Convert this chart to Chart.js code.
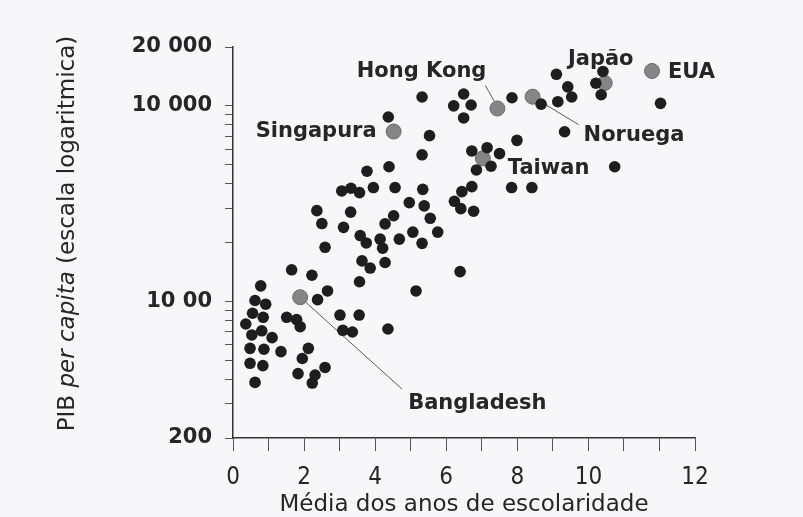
<!DOCTYPE html>
<html>
<head>
<meta charset="utf-8">
<script src="https://cdn.jsdelivr.net/npm/chart.js@4.4.1/dist/chart.umd.min.js"></script>
<style>
  html, body { margin: 0; padding: 0; background: #f7f7f9; }
  #wrap { width: 803px; height: 517px; }
</style>
</head>
<body>
<div id="wrap"><canvas id="pibChart" width="803" height="517"></canvas></div>
<script>
// anos medios de escolaridade (x) e PIB per capita (y) - pontos pretos
const anosEscola = [
    5.32, 6.49, 6.21, 6.70, 6.49, 7.85, 4.37, 5.53, 7.99, 5.32,
    6.72, 7.15, 7.50, 6.85, 7.26, 3.77, 4.39, 7.84, 8.41, 3.06,
    3.32, 3.56, 3.95, 4.56, 5.34, 6.72, 6.44, 4.96, 5.38, 6.23,
    6.41, 6.77, 2.36, 3.31, 5.55, 4.52, 2.50, 3.11, 4.28, 5.06,
    5.76, 3.58, 3.75, 4.14, 4.21, 4.68, 5.32, 2.59, 3.63, 3.86,
    4.28, 1.65, 2.22, 3.56, 6.39, 5.15, 0.78, 2.66, 2.38, 0.62,
    0.92, 0.55, 0.85, 1.51, 1.79, 1.89, 3.01, 3.55, 0.36, 0.53,
    0.81, 1.10, 3.09, 3.36, 4.36, 0.48, 0.87, 1.35, 2.12, 1.95,
    0.48, 0.84, 2.59, 1.83, 2.31, 2.23, 0.62, 8.67, 9.10, 9.42,
    9.53, 9.14, 10.41, 10.21, 10.36, 12.03, 9.33, 10.74
];
const pibPerCapita = [
    11100, 11500, 10000, 10100, 8670, 11000, 8770, 7040, 6660, 5620,
    5880, 6110, 5700, 4700, 4910, 4630, 4880, 3820, 3820, 3670,
    3790, 3600, 3820, 3820, 3740, 3860, 3640, 3200, 3080, 3250,
    2980, 2890, 2910, 2860, 2660, 2740, 2500, 2390, 2490, 2260,
    2260, 2170, 1990, 2080, 1870, 2080, 1980, 1890, 1610, 1480,
    1580, 1450, 1360, 1260, 1420, 1130, 1200, 1130, 1020, 1010,
    967, 869, 829, 829, 807, 742, 851, 851, 766, 673,
    707, 652, 711, 697, 722, 575, 569, 553, 575, 510,
    482, 469, 459, 427, 420, 382, 385, 10200, 14500, 12500,
    11100, 10500, 15000, 13050, 11400, 10300, 7370, 4880
];

// paises destacados (pontos cinzentos)
const destaqueNomes = ['Singapura', 'Hong Kong', 'Noruega', 'Japão', 'EUA', 'Taiwan', 'Bangladesh'];
const destaqueAnos = [4.52, 7.44, 8.43, 10.46, 11.79, 7.03, 1.89];
const destaquePib = [7390, 9690, 11140, 13090, 15080, 5390, 1050];

// eixos
const xTicks = [0, 1, 2, 3, 4, 5, 6, 7, 8, 9, 10, 11, 12, 13];
const xTickLabels = ['0', '', '2', '', '4', '', '6', '', '8', '', '10', '', '', '12'];
const yTicks = [200, 300, 400, 500, 600, 700, 800, 900, 1000, 2000, 3000, 4000, 5000, 6000, 7000, 8000, 9000, 10000, 20000];
const yLabeled = [200, 1000, 10000, 20000];
const yLabels = ['200', '10 00', '10 000', '20 000'];

const xTitle = 'Média dos anos de escolaridade';
const yTitleParts = [['PIB ', 'normal'], ['per capita', 'italic'], [' (escala logaritmica)', 'normal']];

const INK = '#262626';
const FONT = '"DejaVu Sans", sans-serif';

// onde fica cada rotulo em relacao ao seu ponto (px)
const labelLayout = {
    'Singapura':  { dx: -17, dy: 0, align: 'right' },
    'Hong Kong':  { dx: -11, dy: -37, align: 'right', line: [-12, -23, -3, -7] },
    'Noruega':    { dx: 51, dy: 39, align: 'left', line: [0, 0, 46, 28] },
    'Japão':      { dx: -4, dy: -23, align: 'center' },
    'EUA':        { dx: 16, dy: 2, align: 'left' },
    'Taiwan':     { dx: 25, dy: 10, align: 'left' },
    'Bangladesh': { dx: 108, dy: 106, align: 'left', line: [0, 0, 102, 92] }
};

const annotate = {
    id: 'annotate',
    beforeDatasetsDraw(chart) {
        const ctx = chart.ctx, xs = chart.scales.x, ys = chart.scales.y;
        ctx.save();
        ctx.strokeStyle = '#5a5a5a';
        ctx.lineWidth = 1;
        destaqueNomes.forEach((n, i) => {
            const l = labelLayout[n];
            if (!l.line) return;
            const px = xs.getPixelForValue(destaqueAnos[i]);
            const py = ys.getPixelForValue(destaquePib[i]);
            ctx.beginPath();
            ctx.moveTo(px + l.line[0], py + l.line[1]);
            ctx.lineTo(px + l.line[2], py + l.line[3]);
            ctx.stroke();
        });
        ctx.restore();
    },
    afterDatasetsDraw(chart) {
        const ctx = chart.ctx, xs = chart.scales.x, ys = chart.scales.y;
        ctx.save();
        ctx.fillStyle = INK;
        ctx.font = 'bold 21px ' + FONT;
        ctx.textBaseline = 'middle';
        destaqueNomes.forEach((n, i) => {
            const l = labelLayout[n];
            const px = xs.getPixelForValue(destaqueAnos[i]);
            const py = ys.getPixelForValue(destaquePib[i]);
            ctx.textAlign = l.align;
            ctx.fillText(n, px + l.dx, py + l.dy);
        });

        // titulo do eixo y, com "per capita" em italico
        const a = chart.chartArea;
        let total = 0;
        yTitleParts.forEach(p => {
            ctx.font = p[1] + ' 23px ' + FONT;
            total += ctx.measureText(p[0]).width;
        });
        ctx.translate(68, (a.top + a.bottom) / 2 - 9);
        ctx.rotate(-Math.PI / 2);
        ctx.textAlign = 'left';
        let x = -total / 2;
        yTitleParts.forEach(p => {
            ctx.font = p[1] + ' 23px ' + FONT;
            ctx.fillText(p[0], x, 0);
            x += ctx.measureText(p[0]).width;
        });
        ctx.restore();
    }
};

new Chart(document.getElementById('pibChart'), {
    type: 'scatter',
    data: {
        datasets: [
            {
                label: 'Países',
                data: anosEscola.map((v, i) => ({ x: v, y: pibPerCapita[i] })),
                backgroundColor: '#1e1e1e',
                borderWidth: 0,
                pointRadius: 5.8
            },
            {
                label: 'Destaques',
                data: destaqueAnos.map((v, i) => ({ x: v, y: destaquePib[i] })),
                backgroundColor: '#858585',
                borderColor: '#6a6a6a',
                borderWidth: 1,
                pointRadius: 7.5
            }
        ]
    },
    options: {
        responsive: false,
        animation: false,
        layout: { padding: { top: 47, right: 108, left: 0, bottom: 0 } },
        plugins: { legend: { display: false }, tooltip: { enabled: false } },
        scales: {
            x: {
                type: 'linear',
                min: 0,
                max: 13,
                afterBuildTicks: s => { s.ticks = xTicks.map(v => ({ value: v })); },
                afterFit: s => { s.height = 79; },
                grid: { drawOnChartArea: false, drawTicks: true, tickLength: 13, color: '#555', lineWidth: 1 },
                border: { color: '#333', width: 1.5 },
                ticks: {
                    autoSkip: false,
                    maxRotation: 0,
                    padding: 12,
                    color: INK,
                    font: { family: '"DejaVu Sans Condensed", "DejaVu Sans", sans-serif', size: 24 },
                    callback: v => xTickLabels[xTicks.indexOf(v)]
                },
                title: {
                    display: true,
                    text: xTitle,
                    color: INK,
                    font: { family: FONT, size: 23, lineHeight: 1 },
                    padding: { top: 0, bottom: 0 }
                }
            },
            y: {
                type: 'logarithmic',
                min: 200,
                max: 20000,
                afterBuildTicks: s => { s.ticks = yTicks.map(v => ({ value: v })); },
                afterFit: s => { s.width = 233; },
                grid: { drawOnChartArea: false, drawTicks: true, tickLength: 8, color: '#555', lineWidth: 1 },
                border: { color: '#333', width: 1.5 },
                ticks: {
                    autoSkip: false,
                    padding: 13,
                    color: INK,
                    font: { family: FONT, size: 21, weight: 'bold' },
                    callback: v => {
                        const k = yLabeled.indexOf(v);
                        return k < 0 ? '' : yLabels[k];
                    }
                }
            }
        }
    },
    plugins: [annotate]
});
</script>
</body>
</html>
